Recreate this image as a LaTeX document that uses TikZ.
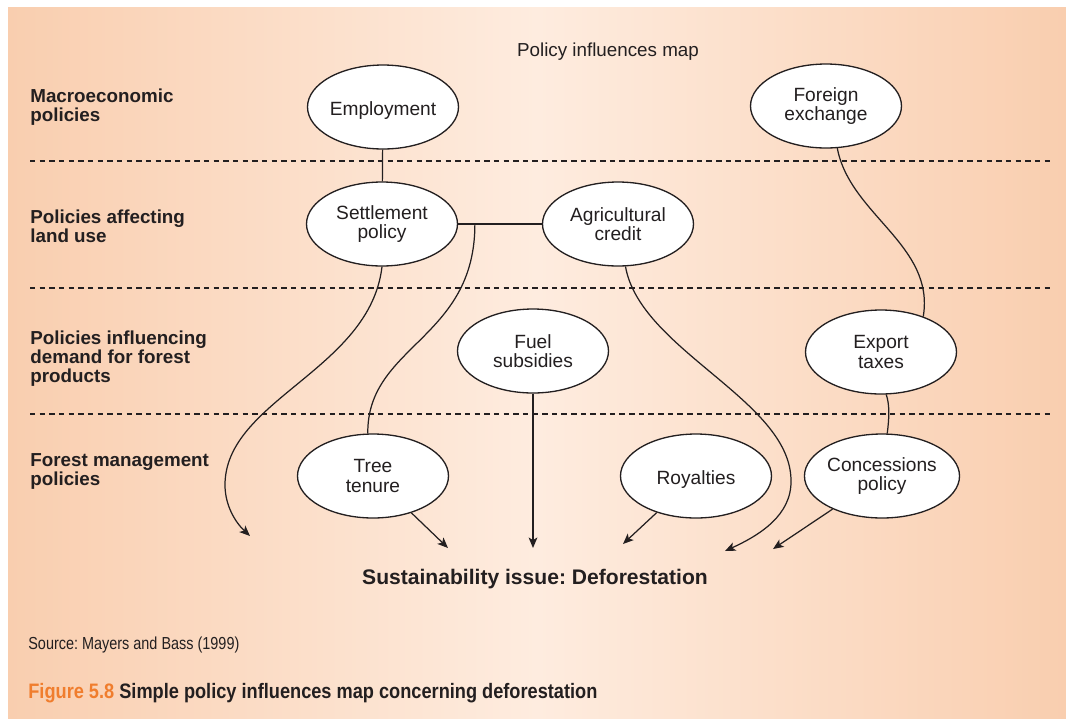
\documentclass[tikz,border=0pt]{standalone}
\usepackage{fontspec}
\setmainfont{Liberation Sans}
\newfontfamily\condfont[FakeStretch=0.87]{Liberation Sans}
\newfontfamily\srcfont[FakeStretch=0.83]{Liberation Sans}
\frenchspacing
\usetikzlibrary{shapes.geometric,arrows.meta,calc}
\definecolor{peachedge}{RGB}{249,206,175}
\definecolor{peachmid}{RGB}{254,236,223}
\definecolor{figorange}{RGB}{240,125,45}
\definecolor{ink}{RGB}{35,31,32}

\begin{document}
\begin{tikzpicture}[x=0.02cm,y=0.02cm]
\tikzstyle{every node}+=[inner sep=0pt, text=ink]
\tikzstyle{pol}=[ellipse, draw=ink, line width=0.75pt, fill=white, minimum width=3.02cm, minimum height=1.68cm, align=center, execute at begin node={\rule{0pt}{12pt}}, font=\fontsize{10.9}{11.2}\selectfont]
\tikzstyle{level}=[anchor=west, align=left, font=\fontsize{10.7}{10.8}\selectfont\bfseries]
\tikzstyle{sep}=[ink, line width=0.65pt, dash pattern=on 3.1pt off 2.4pt]
\tikzstyle{link}=[ink, line width=0.7pt]
\tikzstyle{arr}=[link, -{Stealth[length=6pt,width=5pt,inset=1.5pt]}]
\useasboundingbox (0,0) rectangle (1066,-718);
\shade [left color=peachedge, right color=peachedge, middle color=peachmid] (8,-7) rectangle (1066,-718);
\node (title) at (608,-52) {\fontsize{10.7}{12}\selectfont Policy influences map};
\node [level] (macro) at (30,-107) {Macroeconomic\\policies};
\node [level] (land) at (30,-226) {Policies affecting\\land use};
\node [level] (demand) at (30,-359) {Policies influencing\\demand for forest\\products};
\node [level] (forest) at (30,-471) {Forest management\\policies};
\foreach \y in {161,288,414}
  \draw [sep] (30,-\y) -- (1050,-\y);
\node [pol] (emp) at (383,-107) {Employment};
\node [pol] (fx) at (826,-106) {Foreign\\exchange};
\node [pol] (set) at (382,-224) {Settlement\\policy};
\node [pol] (agr) at (618,-224) {Agricultural\\credit};
\node [pol] (fuel) at (533,-351) {Fuel\\subsidies};
\node [pol] (exp) at (881,-352) {Export\\taxes};
\node [pol] (tree) at (373,-476) {Tree\\tenure};
\node [pol] (roy) at (696,-476) {Royalties};
\node [pol] (con) at (882,-476) {Concessions\\policy};
\node (issue) at (535,-579) {\fontsize{12}{14}\selectfont\bfseries Sustainability issue: Deforestation};
\coordinate (jn) at ($(set.east)!0.2!(agr.west)$);
\coordinate (d1) at (250,-536);
\coordinate (d2) at (448,-548);
\coordinate (d3) at (533,-548);
\coordinate (d4) at (623,-544);
\coordinate (d5) at (725,-551);
\coordinate (d6) at (773,-549);
\draw [link] (emp) -- (set);
\draw [link] (set.east) -- (agr.west);
\draw [link] (jn) .. controls (475,-340) and (367,-345) .. (tree.97);
\draw [link] (fx.-75) .. controls (850,-215) and (935,-245) .. (exp.40);
\draw [link] (exp.-83) .. controls (890,-405) and (889,-420) .. (con.83);
\draw [arr] (set.south) .. controls (370,-370) and (225,-400) .. (225,-485) .. controls (225,-505) and (235,-522) .. (d1);
\draw [arr] (agr.-80) .. controls (640,-350) and (790,-400) .. (791,-480) .. controls (792,-515) and (760,-535) .. (d5);
\draw [arr] (tree) -- (d2);
\draw [arr] (fuel) -- (d3);
\draw [arr] (roy) -- (d4);
\draw [arr] (con) -- (d6);
\node [anchor=west] (src) at (28,-645) {\fontsize{9.9}{12}\srcfont Source: Mayers and Bass (1999)};
\node [anchor=west] (cap) at (28,-693) {\fontsize{11.9}{14}\condfont\bfseries\textcolor{figorange}{Figure 5.8} Simple policy influences map concerning deforestation};
\end{tikzpicture}
\end{document}
